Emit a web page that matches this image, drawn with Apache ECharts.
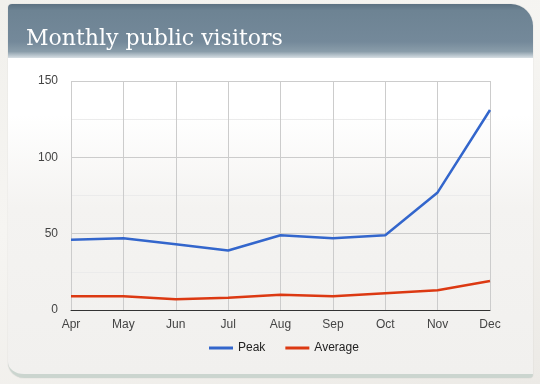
<!DOCTYPE html>
<html>
<head>
<meta charset="utf-8">
<script src="https://cdn.jsdelivr.net/npm/echarts@6/dist/echarts.min.js"></script>
<style>
  html, body { margin: 0; padding: 0; width: 540px; height: 384px; overflow: hidden;
    background: linear-gradient(160deg, #f1f0ec 0%, #f6f5f2 40%, #eceae6 100%); }
  #card { position: absolute; left: 8px; top: 4px; width: 525px; height: 374px;
    border-radius: 4px 22px 4px 16px; overflow: hidden;
    background: linear-gradient(to bottom, #ffffff 0%, #ffffff 30%, #f4f3f1 55%, #f1f0ee 100%);
    box-shadow: 0 0 1px rgba(0,0,0,0.25); border-bottom: 4px solid #cbd5cf; box-sizing: border-box; }
  #head { position: absolute; left: 0; top: 0; width: 100%; height: 54px;
    background: linear-gradient(to bottom, #5c7181 0%, #6d8393 12%, #74899a 70%, #8a9daa 88%, #d7dfe4 100%); }
  #chart { position: absolute; left: 0; top: 0; width: 540px; height: 384px; }
</style>
</head>
<body>
<div id="card"><div id="head"></div></div>
<div id="chart"></div>
<script>
const titleText = "Monthly public visitors";
const months = ["Apr", "May", "Jun", "Jul", "Aug", "Sep", "Oct", "Nov", "Dec"];
const peak = [46, 47, 43, 39, 49, 47, 49, 77, 131];
const average = [9, 9, 7, 8, 10, 9, 11, 13, 19];
const yTicks = [0, 50, 100, 150];

const chart = echarts.init(document.getElementById('chart'), null, { renderer: 'canvas' });
chart.setOption({
  backgroundColor: 'transparent',
  animation: false,
  title: {
    text: titleText, left: 21, top: 23,
    textStyle: { fontFamily: 'DejaVu Serif', fontWeight: 'normal', fontSize: 22, color: '#ffffff' }
  },
  legend: {
    top: 337, left: 204, itemWidth: 24, itemHeight: 3, itemGap: 20,
    icon: 'rect',
    textStyle: { fontFamily: 'Liberation Sans, Arial', fontSize: 12, color: '#222' },
    data: ['Peak', 'Average']
  },
  grid: { left: 71, right: 50, top: 81, bottom: 74 },
  xAxis: {
    type: 'category', data: months, boundaryGap: false,
    axisLine: { lineStyle: { color: '#333', width: 1 } },
    axisTick: { show: false },
    axisLabel: { fontFamily: 'Liberation Sans, Arial', fontSize: 12, color: '#444', margin: 9, interval: 0 },
    splitLine: { show: true, lineStyle: { color: '#cccccc' } }
  },
  yAxis: {
    type: 'value', min: yTicks[0], max: yTicks[yTicks.length - 1], interval: 50,
    axisLine: { show: false }, axisTick: { show: false },
    axisLabel: { fontFamily: 'Liberation Sans, Arial', fontSize: 12, color: '#444', margin: 13 },
    splitLine: { lineStyle: { color: '#cccccc' } },
    minorTick: { show: false, splitNumber: 2 },
    minorSplitLine: { show: true, lineStyle: { color: '#ebebeb' } }
  },
  series: [
    { name: 'Peak', type: 'line', data: peak, showSymbol: false, symbol: 'none',
      itemStyle: { color: '#3366cc' }, lineStyle: { color: '#3366cc', width: 2.5 } },
    { name: 'Average', type: 'line', data: average, showSymbol: false, symbol: 'none',
      itemStyle: { color: '#dc3912' }, lineStyle: { color: '#dc3912', width: 2.5 } }
  ]
});
</script>
</body>
</html>
